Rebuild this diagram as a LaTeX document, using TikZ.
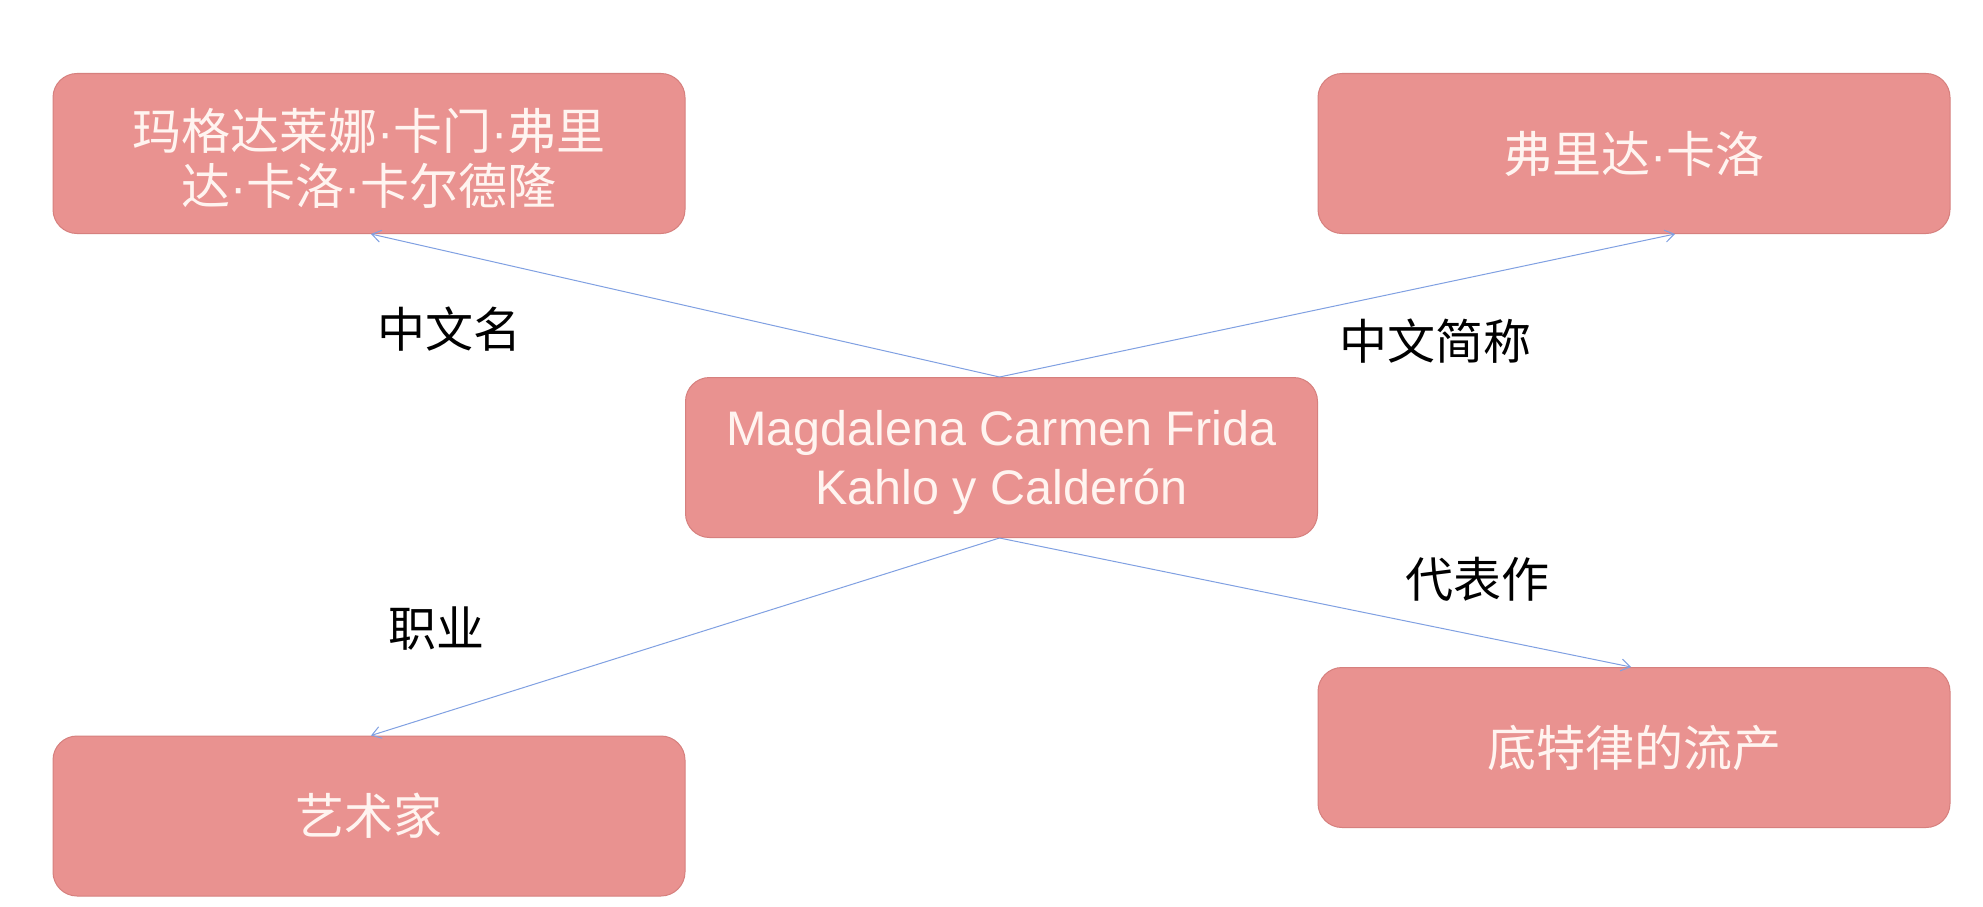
\documentclass[tikz,border=0pt]{standalone}
\usepackage{fontspec}
\setmainfont{Liberation Sans}
\newfontfamily\cjk{Noto Sans CJK SC}
\newfontfamily\latinfont{Liberation Sans}
\newcommand\ndot{{\latinfont ·}}
\usetikzlibrary{arrows.meta,calc}
\definecolor{boxfill}{RGB}{233,146,144}
\definecolor{boxline}{RGB}{214,128,126}
\definecolor{boxtext}{RGB}{255,244,240}
\definecolor{arrowblue}{RGB}{128,160,226}
\tikzset{
  x=1pt,y=-1pt,
  card/.style={draw=boxline,line width=1pt,fill=boxfill,rounded corners=24pt,
    minimum width=632pt,minimum height=160pt,align=center,text=boxtext,
    font=\fontsize{49}{59}\selectfont\cjk,inner sep=0pt},
  cardtext/.style={align=center,text=boxtext,inner sep=0pt,
    font=\fontsize{49}{55}\selectfont\cjk},
  latincard/.style={card,font=\fontsize{48.5}{59}\selectfont},
  lowered/.style={text depth=-4pt},
  rel/.style={draw=arrowblue,line width=1pt,-{Straight Barb[length=9pt,width=12pt]}},
  lbl/.style={font=\fontsize{48}{56}\selectfont\cjk,text=black,inner sep=0pt}
}
\begin{document}
\begin{tikzpicture}
\useasboundingbox[fill=white] (0,0) rectangle (1983,907);
\node[card] (tl) at (369,153.5) {};
\node[cardtext] (tltext) at ([yshift=-5pt]tl.center) {玛格达莱娜\ndot 卡门\ndot 弗里\\达\ndot 卡洛\ndot 卡尔德隆};
\node[card] (tr) at (1634,153.5) {弗里达\ndot 卡洛};
\node[latincard,lowered] (c) at (1001.5,457.5) {Magdalena Carmen Frida\\Kahlo y Calderón};
\node[card] (bl) at (369,816) {艺术家};
\node[card] (br) at (1634,747.5) {底特律的流产};
\draw[rel] ([xshift=-2pt]c.north) -- ([xshift=2pt]tl.south);
\draw[rel] ([xshift=-2pt]c.north) -- ([xshift=41pt]tr.south);
\draw[rel] ([xshift=-2pt]c.south) -- ([xshift=2pt]bl.north);
\draw[rel] ([xshift=-2pt]c.south) -- ([xshift=-3pt]br.north);
\node[lbl] (l1) at (449,329) {中文名};
\node[lbl] (l2) at (1435,341) {中文简称};
\node[lbl] (l3) at (436,629) {职业};
\node[lbl] (l4) at (1477,579) {代表作};
\end{tikzpicture}
\end{document}
